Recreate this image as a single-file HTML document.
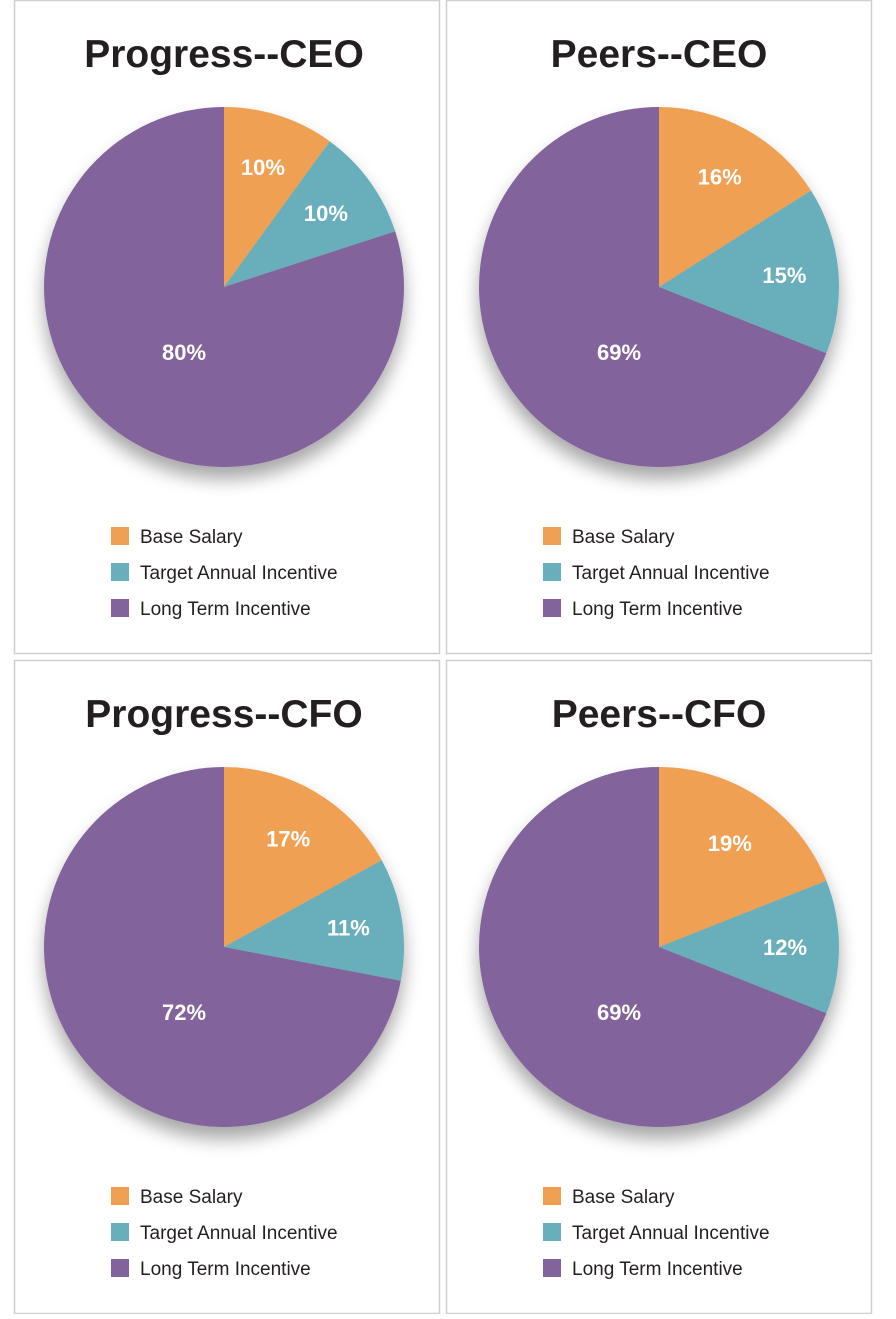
<!DOCTYPE html>
<html><head><meta charset="utf-8"><style>
body{margin:0;background:#fff;width:896px;height:1314px;overflow:hidden;font-family:"Liberation Sans",sans-serif}
</style></head><body>
<svg id="s" width="896" height="1314" xmlns="http://www.w3.org/2000/svg">
<defs><filter id="sh" x="-30%" y="-30%" width="160%" height="170%"><feGaussianBlur in="SourceAlpha" stdDeviation="9"/><feOffset dx="0" dy="12"/><feComponentTransfer><feFuncA type="linear" slope="0.35"/></feComponentTransfer><feMerge><feMergeNode/><feMergeNode in="SourceGraphic"/></feMerge></filter></defs>
</svg>
<script>
const titles=["Progress--CEO","Peers--CEO","Progress--CFO","Peers--CFO"];
const categories=["Base Salary","Target Annual Incentive","Long Term Incentive"];
const progressCEO=[10,10,80];
const peersCEO=[16,15,69];
const progressCFO=[17,11,72];
const peersCFO=[19,12,69];
const series=[progressCEO,peersCEO,progressCFO,peersCFO];
const colors=["#EFA052","#68AFBB","#82639C"];
const NS="http://www.w3.org/2000/svg";
const svg=document.getElementById('s');
function mk(t,a,p){const e=document.createElementNS(NS,t);for(const k in a)e.setAttribute(k,a[k]);(p||svg).appendChild(e);return e;}
const panels=[[14,0,210],[446,0,213],[14,660,210],[446,660,213]];
panels.forEach((p,i)=>{
  const g=mk('g',{});
  
  
  mk('rect',{x:p[0]+0.5,y:p[1]+0.5,width:425,height:653,fill:'#fff',stroke:'#cfcfcf','stroke-width':1.5},g);
  const t=mk('text',{x:p[0]+p[2],y:p[1]+67,'text-anchor':'middle','font-size':39,'font-weight':'bold',fill:'#231f20'},g);
  t.textContent=titles[i];
  
  
  const cx=p[0]+p[2], cy=p[1]+287, R=180;
  const pg=mk('g',{filter:'url(#sh)'},g);
  
  
  const vals=series[i], tot=vals.reduce((a,b)=>a+b,0);
  let acc=0;
  const labels=[];
  vals.forEach((v,j)=>{
    const a0=acc/tot*2*Math.PI, a1=(acc+v)/tot*2*Math.PI; acc+=v;
    const x0=cx+R*Math.sin(a0), y0=cy-R*Math.cos(a0), x1=cx+R*Math.sin(a1), y1=cy-R*Math.cos(a1);
    const large=(a1-a0)>Math.PI?1:0;
    const s=mk('path',{d:`M${cx},${cy}L${x0},${y0}A${R},${R} 0 ${large} 1 ${x1},${y1}Z`,fill:colors[j]},pg);
    
    
    const m=(a0+a1)/2;
    let lx,ly;
    if(v/tot>0.5){lx=cx-40;ly=cy+65;} else {lx=cx+0.7*R*Math.sin(m);ly=cy-0.7*R*Math.cos(m);}
    labels.push([lx,ly,v]);
  });
  labels.forEach(l=>{
    const tt=mk('text',{x:l[0],y:l[1]+8,'text-anchor':'middle','font-size':22,'font-weight':'bold',fill:'#fff'},g);
    tt.textContent=l[2]+'%';
    
    
  });
  categories.forEach((c,j)=>{
    const lg=mk('g',{},g);
    
    
    mk('rect',{x:p[0]+97,y:p[1]+527+j*36,width:18,height:18,fill:colors[j]},lg);
    const lt=mk('text',{x:p[0]+126,y:p[1]+543+j*36,'font-size':19,fill:'#231f20'},lg);
    lt.textContent=c;
  });
});
</script>
</body></html>
